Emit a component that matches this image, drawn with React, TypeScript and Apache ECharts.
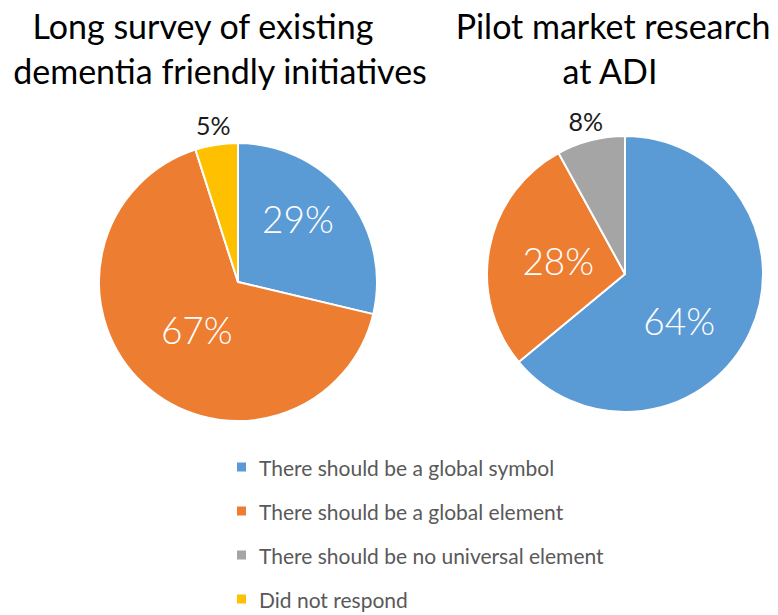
import React, { useEffect, useRef } from "react";
import * as echarts from "echarts";

const categories = [
  "There should be a global symbol",
  "There should be a global element",
  "There should be no universal element",
  "Did not respond",
];
const colors = ["#5B9BD5", "#ED7D31", "#A5A5A5", "#FFC000"];

const leftTitle = ["Long survey of existing", "dementia friendly initiatives"];
const rightTitle = ["Pilot market research", "at ADI"];

// values per category (null = not present in that survey)
const leftValues = [29, 67, null, 5];
const rightValues = [64, 28, 8, null];

// labels drawn outside the pie (small slices)
const leftOutside = ["Did not respond"];
const rightOutside = ["There should be no universal element"];

const FONT = "Lato, 'Open Sans', sans-serif";

function buildData(values: (number | null)[]) {
  return categories
    .map((name, i) => ({ name, value: values[i], color: colors[i] }))
    .filter((d) => d.value !== null)
    .map((d) => ({ name: d.name, value: d.value as number, itemStyle: { color: d.color } }));
}

function pieSeries(
  values: (number | null)[],
  outside: string[],
  center: number[],
  r: number,
  nudge: Record<string, { dx: number; dy: number }>
) {
  const data = buildData(values);
  const main = {
    type: "pie",
    center,
    radius: [0, r],
    startAngle: 90,
    clockwise: true,
    avoidLabelOverlap: false,
    itemStyle: { borderColor: "#ffffff", borderWidth: 2 },
    label: {
      show: true,
      position: "inside",
      formatter: "{c}%",
      color: "#ffffff",
      fontFamily: FONT,
      fontWeight: 300,
      fontSize: 37,
    },
    labelLine: { show: false },
    labelLayout: (p: any) => nudge[data[p.dataIndex].name] || {},
    data: data.map((d) => ({
      ...d,
      label: { show: !outside.includes(d.name) },
    })),
  };
  const ring = {
    type: "pie",
    center,
    radius: [r, r + 34],
    startAngle: 90,
    clockwise: true,
    silent: true,
    avoidLabelOverlap: false,
    itemStyle: { color: "transparent", borderWidth: 0 },
    label: {
      show: true,
      position: "inside",
      formatter: "{c}%",
      color: "#1a1a1a",
      fontFamily: FONT,
      fontSize: 25,
    },
    labelLine: { show: false },
    data: data.map((d) => ({
      name: d.name,
      value: d.value,
      itemStyle: { color: "transparent" },
      label: { show: outside.includes(d.name) },
    })),
  };
  return { main, ring };
}

export default function App() {
  const ref = useRef<HTMLDivElement>(null);
  useEffect(() => {
    if (!ref.current) return;
    const chart = echarts.init(ref.current, undefined, { renderer: "svg" });
    const L = pieSeries(leftValues, leftOutside, [238, 282], 139, {
      [categories[0]]: { dx: 3, dy: -19 },
      [categories[1]]: { dx: 8, dy: -6 },
    });
    const R = pieSeries(rightValues, rightOutside, [625, 274], 138, {
      [categories[0]]: { dx: -11, dy: 16 },
      [categories[1]]: { dx: 4, dy: 0 },
    });
    const titleStyle = { fill: "#000000", font: `34px ${FONT}`, align: "center", verticalAlign: "middle" };
    chart.setOption({
      animation: false,
      backgroundColor: "#ffffff",
      legend: {
        orient: "vertical",
        left: 235,
        top: 455,
        height: 160,
        padding: 0,
        itemWidth: 11,
        itemHeight: 11,
        itemGap: 20,
        icon: "rect",
        selectedMode: false,
        data: categories,
        textStyle: { color: "#595959", fontFamily: FONT, fontSize: 21, lineHeight: 24, padding: [0, 0, 0, 7] },
      },
      graphic: [
        { type: "text", x: 203, y: 25, style: { ...titleStyle, text: leftTitle[0] } },
        { type: "text", x: 220, y: 70, style: { ...titleStyle, text: leftTitle[1] } },
        { type: "text", x: 613, y: 25, style: { ...titleStyle, text: rightTitle[0] } },
        { type: "text", x: 610, y: 70, style: { ...titleStyle, text: rightTitle[1] } },
      ],
      series: [L.main, R.main, L.ring, R.ring],
    });
    return () => chart.dispose();
  }, []);
  return (
    <div
      ref={ref}
      style={{ position: "fixed", left: 0, top: 0, width: 778, height: 615 }}
    />
  );
}
